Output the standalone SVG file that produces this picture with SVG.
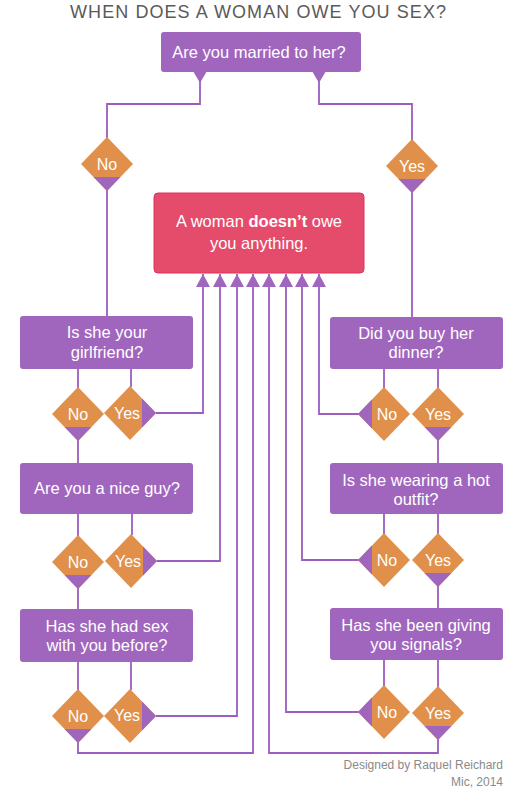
<svg xmlns="http://www.w3.org/2000/svg" xmlns:xlink="http://www.w3.org/1999/xlink" width="516" height="790" viewBox="0 0 516 790">
<style>
.box{fill:#a066bd}
.res{fill:#e54b6b;stroke:#e0305a;stroke-width:1}
.t{font-family:"Liberation Sans","DejaVu Sans",sans-serif;font-size:16.5px;fill:#ffffff;text-anchor:middle}
.dt{font-family:"Liberation Sans","DejaVu Sans",sans-serif;font-size:16px;fill:#ffffff;text-anchor:middle}
.title{font-family:"Liberation Sans","DejaVu Sans",sans-serif;font-size:18px;fill:#5a5a5a;text-anchor:middle}
.foot{font-family:"Liberation Sans","DejaVu Sans",sans-serif;font-size:12px;fill:#8a8a8a;text-anchor:end}
.dia{fill:#e0904a}
.pur{fill:#a066bd}
.c{fill:none;stroke:#9c5cc0;stroke-width:1.8}
.a{marker-end:url(#arr)}
</style>
<defs>
<marker id="arr" markerUnits="userSpaceOnUse" markerWidth="13" markerHeight="14" viewBox="0 0 13 14" refX="13" refY="7" orient="auto">
<path d="M0,0 L13,7 L0,14 Z" fill="#a066bd"/>
</marker>
<polygon id="dia" class="dia" points="0,-27 26,0 0,27 -26,0"/>
<polygon id="pb" class="pur" points="-13.5,13 13.5,13 0,27"/>
<polygon id="pr" class="pur" points="12,-14.5 26,0 12,14.5"/>
<polygon id="pl" class="pur" points="-12,-14.5 -26,0 -12,14.5"/>
</defs>
<rect width="516" height="790" fill="#ffffff"/>
<text class="title" x="258" y="18" textLength="376" lengthAdjust="spacing">WHEN DOES A WOMAN OWE YOU SEX?</text>

<g id="connectors">
<polyline class="c" points="200,80 200,104 107,104 107,138"/>
<polyline class="c" points="319,80 319,104 412,104 412,140"/>
<polyline class="c" points="107,190 107,316"/>
<polyline class="c" points="412,192 412,317"/>
<polyline class="c" points="78,369 78,388"/>
<polyline class="c" points="131,369 131,387"/>
<polyline class="c" points="78,440 78,463"/>
<polyline class="c a" points="156,413 203,413 203,274"/>
<polyline class="c" points="78,514 78,536"/>
<polyline class="c" points="132,514 132,535"/>
<polyline class="c" points="78,588 78,609"/>
<polyline class="c a" points="157,561 220,561 220,274"/>
<polyline class="c" points="78,662 78,690"/>
<polyline class="c" points="131,662 131,690"/>
<polyline class="c a" points="156,716 237,716 237,274"/>
<polyline class="c a" points="78,742 78,753 253,753 253,274"/>
<polyline class="c" points="384,369 384,388"/>
<polyline class="c" points="438,369 438,388"/>
<polyline class="c a" points="359,414 319,414 319,274"/>
<polyline class="c" points="438,440 438,463"/>
<polyline class="c" points="384,514 384,534"/>
<polyline class="c" points="438,514 438,534"/>
<polyline class="c a" points="359,560 302,560 302,274"/>
<polyline class="c" points="438,586 438,608"/>
<polyline class="c" points="384,660 384,686"/>
<polyline class="c" points="438,660 438,687"/>
<polyline class="c a" points="359,712 286,712 286,274"/>
<polyline class="c a" points="438,739 438,753 269,753 269,274"/>
</g>

<g id="q-married">
<rect class="box" x="161" y="32" width="200" height="40" rx="3"/>
<polygon class="box" points="193,71 207,71 200,83"/>
<polygon class="box" points="312,71 326,71 319,83"/>
<text class="t" x="259" y="58" font-size="17.5">Are you married to her?</text>
</g>
<g id="d-married-no">
<use xlink:href="#dia" x="107" y="164"/><use xlink:href="#pb" x="107" y="164"/>
<text class="dt" x="107" y="170">No</text>
</g>
<g id="d-married-yes">
<use xlink:href="#dia" x="412" y="166"/><use xlink:href="#pb" x="412" y="166"/>
<text class="dt" x="412" y="172">Yes</text>
</g>

<g id="result">
<rect class="res" x="154" y="193" width="210" height="80" rx="4"/>
<text class="t" x="259" y="227" font-size="18.5">A woman <tspan font-weight="bold">doesn’t</tspan> owe</text>
<text class="t" x="259" y="249" font-size="18.5">you anything.</text>
</g>

<g id="q-girlfriend">
<rect class="box" x="20" y="316" width="173" height="53" rx="3"/>
<text class="t" x="107" y="338">Is she your</text>
<text class="t" x="107" y="358">girlfriend?</text>
</g>
<g id="d-girlfriend-no">
<use xlink:href="#dia" x="78" y="414"/><use xlink:href="#pb" x="78" y="414"/>
<text class="dt" x="78" y="420">No</text>
</g>
<g id="d-girlfriend-yes">
<use xlink:href="#dia" x="130" y="413"/><use xlink:href="#pr" x="130" y="413"/>
<text class="dt" x="127" y="419">Yes</text>
</g>

<g id="q-niceguy">
<rect class="box" x="20" y="463" width="173" height="51" rx="3"/>
<text class="t" x="107" y="494">Are you a nice guy?</text>
</g>
<g id="d-niceguy-no">
<use xlink:href="#dia" x="78" y="562"/><use xlink:href="#pb" x="78" y="562"/>
<text class="dt" x="78" y="568">No</text>
</g>
<g id="d-niceguy-yes">
<use xlink:href="#dia" x="131" y="561"/><use xlink:href="#pr" x="131" y="561"/>
<text class="dt" x="128" y="567">Yes</text>
</g>

<g id="q-sexbefore">
<rect class="box" x="20" y="609" width="173" height="53" rx="3"/>
<text class="t" x="107" y="632">Has she had sex</text>
<text class="t" x="107" y="651">with you before?</text>
</g>
<g id="d-sexbefore-no">
<use xlink:href="#dia" x="78" y="716"/><use xlink:href="#pb" x="78" y="716"/>
<text class="dt" x="78" y="722">No</text>
</g>
<g id="d-sexbefore-yes">
<use xlink:href="#dia" x="130" y="716"/><use xlink:href="#pr" x="130" y="716"/>
<text class="dt" x="127" y="721">Yes</text>
</g>

<g id="q-dinner">
<rect class="box" x="330" y="317" width="173" height="52" rx="3"/>
<text class="t" x="416" y="339">Did you buy her</text>
<text class="t" x="416" y="358">dinner?</text>
</g>
<g id="d-dinner-no">
<use xlink:href="#dia" x="384" y="414"/><use xlink:href="#pl" x="384" y="414"/>
<text class="dt" x="387" y="420">No</text>
</g>
<g id="d-dinner-yes">
<use xlink:href="#dia" x="438" y="414"/><use xlink:href="#pb" x="438" y="414"/>
<text class="dt" x="438" y="420">Yes</text>
</g>

<g id="q-outfit">
<rect class="box" x="330" y="463" width="173" height="51" rx="3"/>
<text class="t" x="416" y="486">Is she wearing a hot</text>
<text class="t" x="416" y="505">outfit?</text>
</g>
<g id="d-outfit-no">
<use xlink:href="#dia" x="384" y="560"/><use xlink:href="#pl" x="384" y="560"/>
<text class="dt" x="387" y="566">No</text>
</g>
<g id="d-outfit-yes">
<use xlink:href="#dia" x="438" y="560"/><use xlink:href="#pb" x="438" y="560"/>
<text class="dt" x="438" y="566">Yes</text>
</g>

<g id="q-signals">
<rect class="box" x="330" y="608" width="173" height="52" rx="3"/>
<text class="t" x="416" y="631">Has she been giving</text>
<text class="t" x="416" y="650">you signals?</text>
</g>
<g id="d-signals-no">
<use xlink:href="#dia" x="384" y="712"/><use xlink:href="#pl" x="384" y="712"/>
<text class="dt" x="387" y="718">No</text>
</g>
<g id="d-signals-yes">
<use xlink:href="#dia" x="438" y="713"/><use xlink:href="#pb" x="438" y="713"/>
<text class="dt" x="438" y="719">Yes</text>
</g>

<text class="foot" x="503" y="769">Designed by Raquel Reichard</text>
<text class="foot" x="503" y="786">Mic, 2014</text>
</svg>
